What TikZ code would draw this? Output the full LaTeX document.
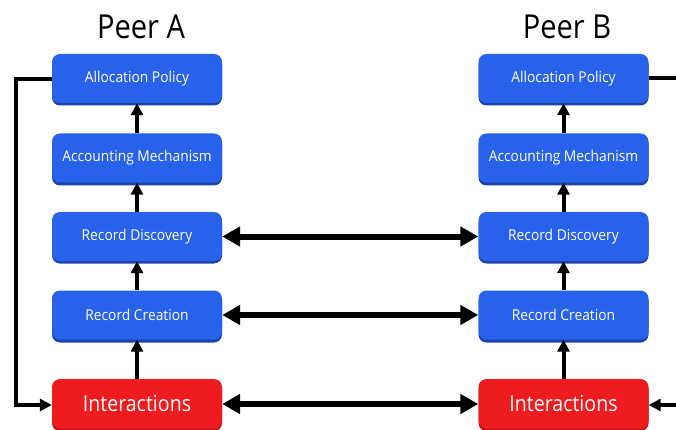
\documentclass[tikz,border=0pt]{standalone}
\usepackage{fontspec}
\setmainfont{Open Sans}
\usetikzlibrary{arrows.meta,positioning}
\definecolor{boxblue}{HTML}{2862EA}
\definecolor{boxblueD}{HTML}{1C44A8}
\definecolor{boxred}{HTML}{EE1B1F}
\definecolor{boxredD}{HTML}{A81214}
\tikzset{
  bluebox/.style={rounded corners=8pt, fill=boxblue, text=white, minimum width=170pt, minimum height=49pt, inner sep=0pt, font=\fontsize{15}{17}\selectfont},
  redbox/.style={rounded corners=8pt, fill=boxred, text=white, minimum width=170pt, minimum height=50pt, inner sep=0pt, font=\fontsize{22}{24}\selectfont},
  shadowblue/.style={rounded corners=8pt, fill=boxblueD},
  shadowred/.style={rounded corners=8pt, fill=boxredD},
  conn/.style={line width=4pt, -{Triangle[length=12pt,width=12pt]}},
  dconn/.style={line width=6pt, {Triangle[length=18pt,width=19pt]}-{Triangle[length=18pt,width=19pt]}},
  plain/.style={line width=4pt},
  title/.style={font=\fontsize{33}{36}\selectfont, inner sep=0pt}
}
\newcommand{\nx}[1]{\scalebox{0.92}[1]{#1}}
\begin{document}
\begin{tikzpicture}[x=1pt,y=-1pt]
\useasboundingbox (0,0) rectangle (676,430);
\fill[white] (0,0) rectangle (676,430);
% title
\node[title] (ta) at (141,27) {\scalebox{0.88}[1]{Peer A}};
\node[title] (tb) at (567,27) {\scalebox{0.88}[1]{Peer B}};
% shadows
\foreach \cx in {137,563.5}{
  \foreach \t/\b in {55/104,134/184,213/262,291/341}{
    \fill[shadowblue] (\cx-85,\t+2) rectangle (\cx+85,\b+1.5);
  }
  \fill[shadowred] (\cx-85,381) rectangle (\cx+85,431);
}
% Peer A
\node[bluebox] (apA) at (137,78.5) {\nx{Allocation Policy}};
\node[bluebox] (amA) at (137,158) {\nx{Accounting Mechanism}};
\node[bluebox] (rdA) at (137,236.5) {\nx{Record Discovery}};
\node[bluebox] (rcA) at (137,315) {\nx{Record Creation}};
\node[redbox] (inA) at (137,404) {\scalebox{0.89}[1]{Interactions}};
% Peer B
\node[bluebox] (apB) at (563.5,78.5) {\nx{Allocation Policy}};
\node[bluebox] (amB) at (563.5,158) {\nx{Accounting Mechanism}};
\node[bluebox] (rdB) at (563.5,236.5) {\nx{Record Discovery}};
\node[bluebox] (rcB) at (563.5,315) {\nx{Record Creation}};
\node[redbox] (inB) at (563.5,404) {\scalebox{0.89}[1]{Interactions}};
% vertical arrows
\foreach \p in {A,B}{
  \draw[conn] (am\p.north) -- (ap\p.south);
  \draw[conn] (rd\p.north) -- (am\p.south);
  \draw[conn] (rc\p.north) -- (rd\p.south);
  \draw[conn] (in\p.north) -- (rc\p.south);
}
% horizontal double arrows
\draw[dconn] (rdA.east) -- (rdB.west);
\draw[dconn] (rcA.east) -- (rcB.west);
\draw[dconn] (inA.east) -- (inB.west);
% left loop
\coordinate (lc1) at (16,79);
\coordinate (lc2) at (16,405);
\draw[plain] (apA.west |- lc1) -- (lc1) -- (lc2) -- ([xshift=-10pt]lc2 -| inA.west);
\draw[conn] (lc2) -- (lc2 -| inA.west);
% right side (off-picture)
\coordinate (rc1) at (680,78);
\coordinate (rc2) at (680,405);
\draw[plain] (apB.east |- rc1) -- (rc1);
\draw[conn] (rc2) -- (rc2 -| inB.east);
\end{tikzpicture}
\end{document}
